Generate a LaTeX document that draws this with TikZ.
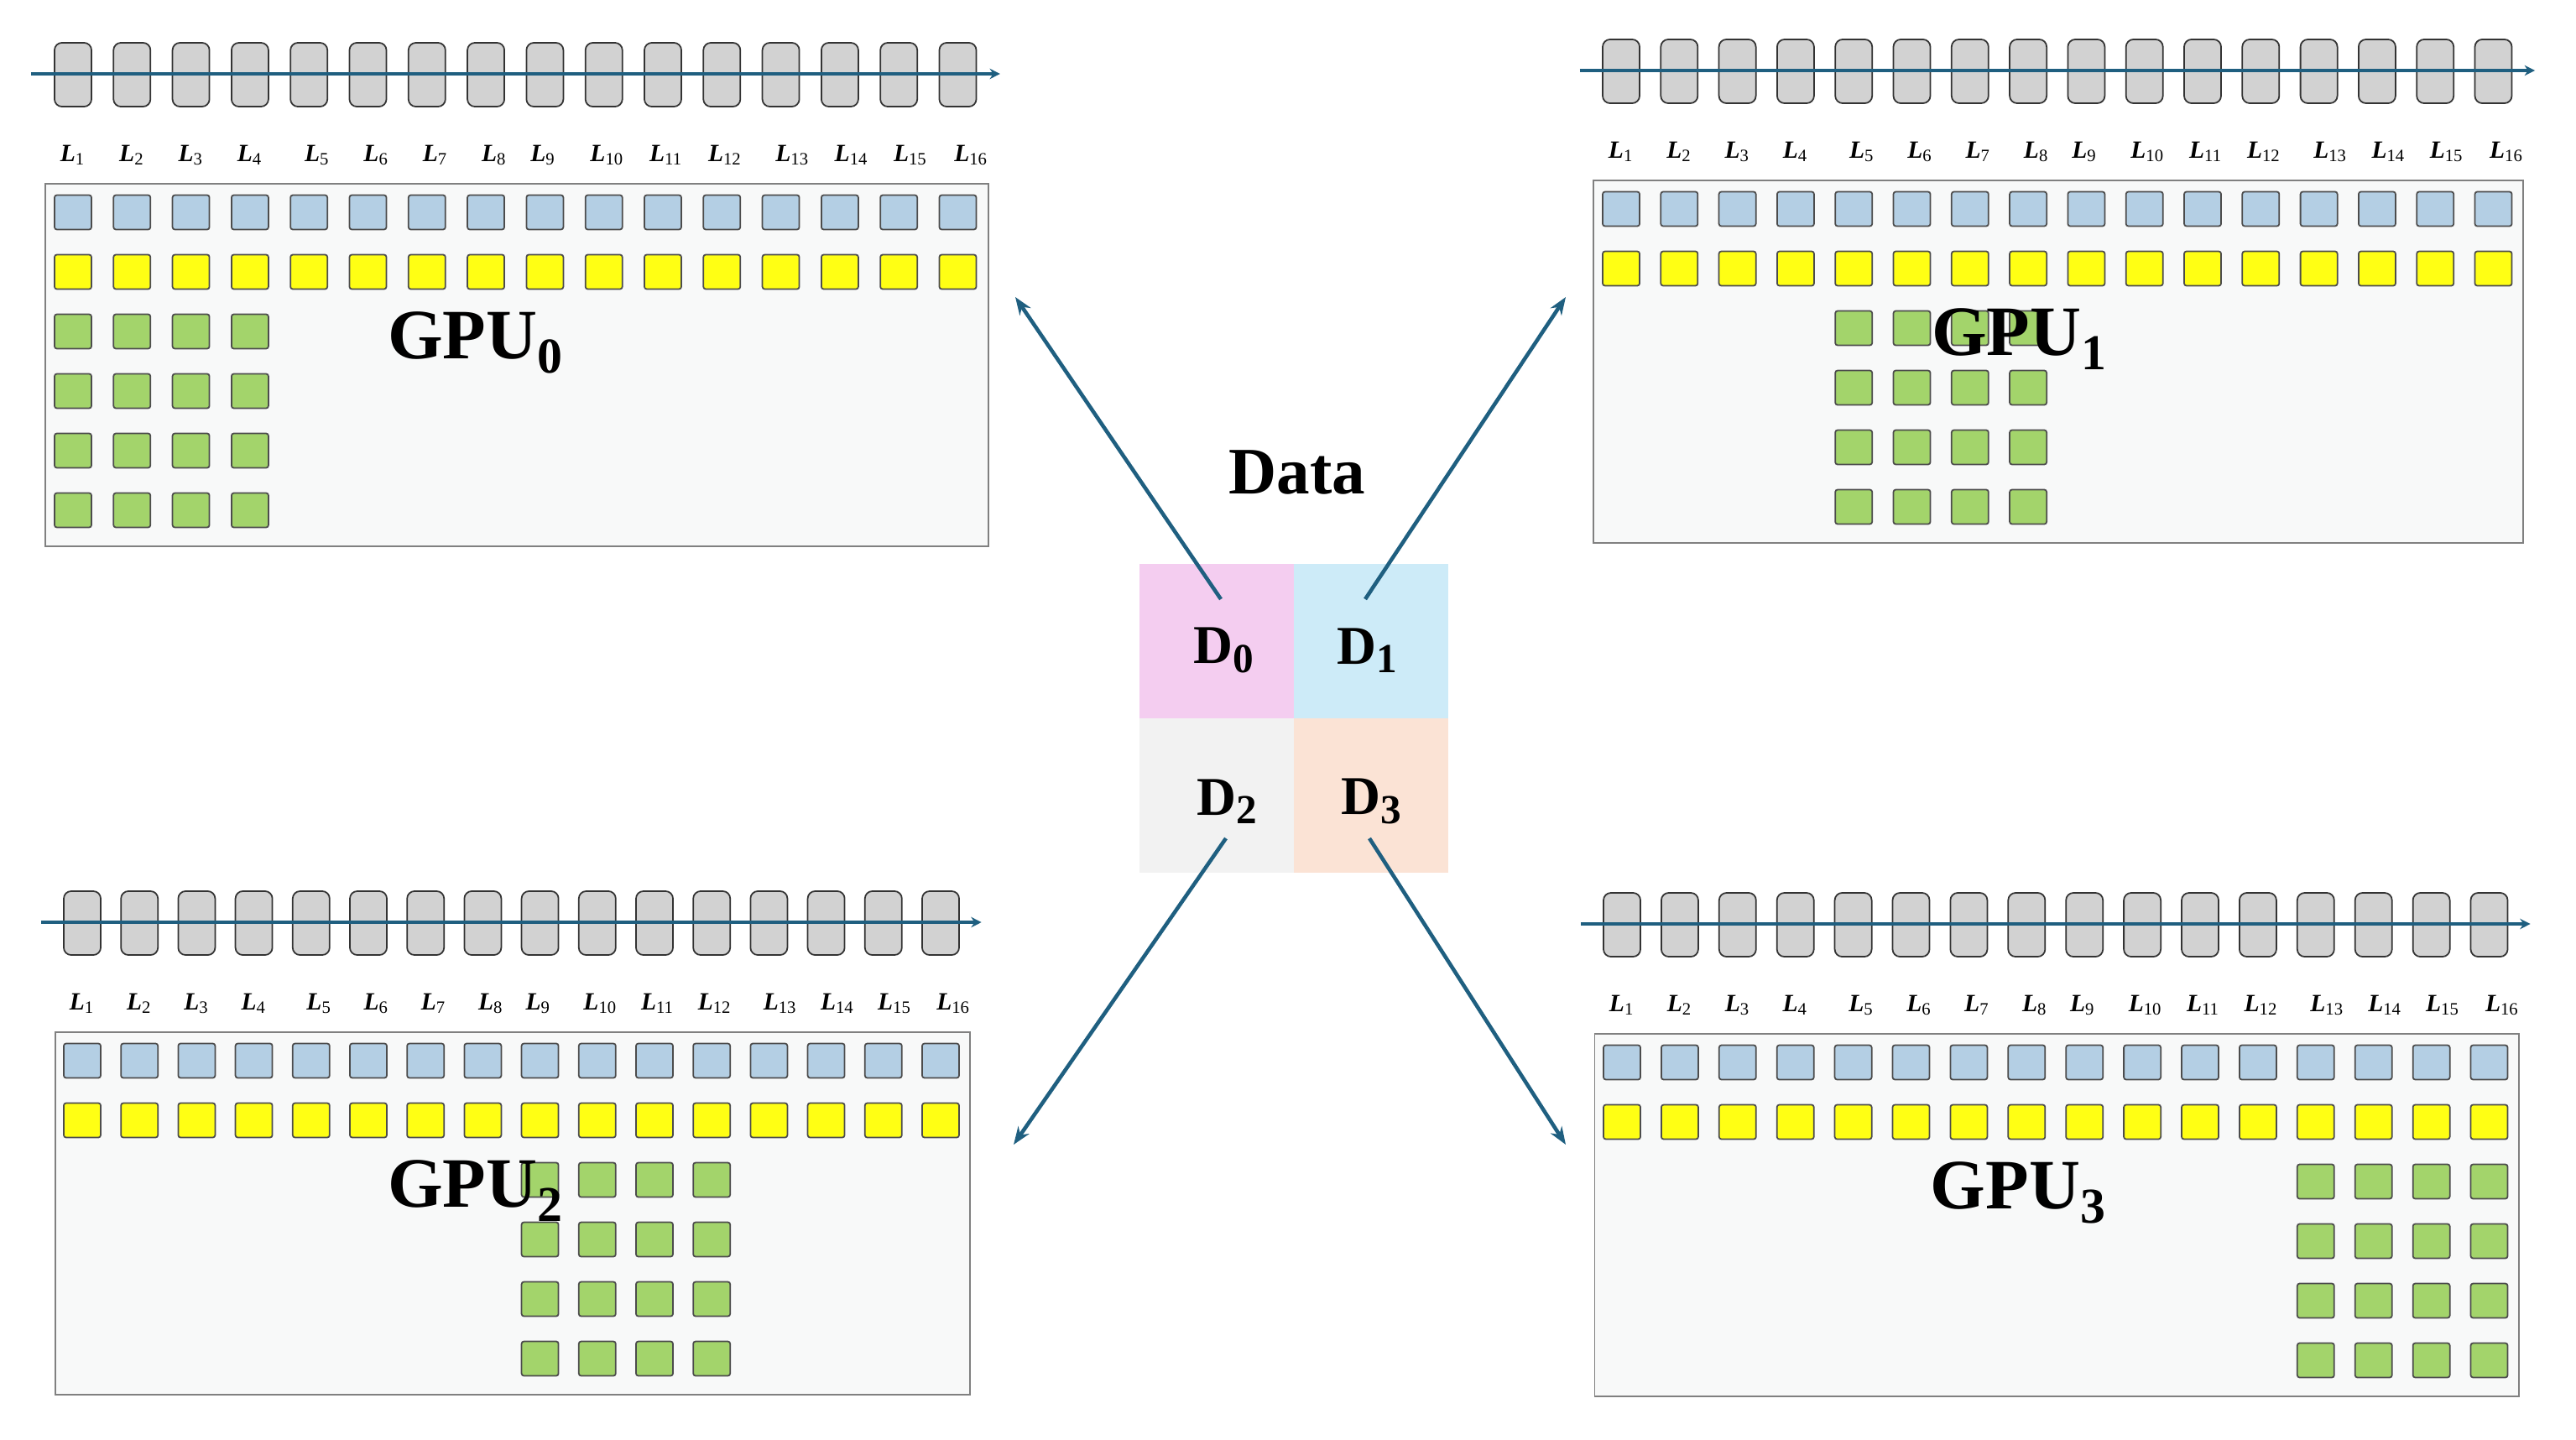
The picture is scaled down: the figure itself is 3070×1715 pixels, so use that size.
\documentclass[tikz,border=0pt]{standalone}
\usepackage{fontspec}
\setmainfont{Liberation Serif}
\usepackage{xcolor}
\usetikzlibrary{arrows, arrows.meta}

\definecolor{flowblue}{HTML}{1F5F80}
\definecolor{layergray}{HTML}{D2D2D2}
\definecolor{panelgray}{HTML}{F8F9F9}
\definecolor{wblue}{HTML}{B4CFE4}
\definecolor{wyellow}{HTML}{FFFF14}
\definecolor{wgreen}{HTML}{A3D46B}
\definecolor{dpink}{HTML}{F4CDF0}
\definecolor{dblue}{HTML}{CDEBF8}
\definecolor{dgray}{HTML}{F2F2F2}
\definecolor{dpeach}{HTML}{FBE3D5}

\tikzset{
  layer/.style={draw=black!80, fill=layergray, rounded corners=2.5pt, minimum width=0.44cm, minimum height=0.76cm, inner sep=0pt, line width=0.5pt},
  cell/.style={draw=black!70, rounded corners=0.8pt, minimum width=0.44cm, minimum height=0.41cm, inner sep=0pt, line width=0.5pt},
  panel/.style={draw=black!50, fill=panelgray, line width=0.5pt},
  layerline/.style={flowblue, line width=1.1pt, -{Stealth[length=3.5pt,width=3.5pt]}},
  flow/.style={flowblue, line width=1.3pt},
  lab/.style={font=\fontsize{8.4}{10}\selectfont, inner sep=0pt},
  gpulab/.style={font=\fontsize{24}{28}\selectfont\bfseries, inner sep=0pt},
  dcell/.style={minimum width=1.84cm, minimum height=1.84cm, inner sep=0pt},
  dlab/.style={inner sep=0pt, font=\fontsize{18.5}{20}\selectfont\bfseries},
}

\newcommand{\gsub}[1]{\raisebox{-5pt}{\fontsize{17}{17}\selectfont #1}}
\newcommand{\dsub}[1]{\raisebox{-3pt}{\fontsize{14}{14}\selectfont #1}}
\newcommand{\lname}[1]{\textbf{\textit{L}}\textsubscript{#1}}

\newcommand{\gpupanel}[6]{%
\begin{scope}[shift={(#2,#3)}, xscale=#4/70]
\draw[panel] (-33,131) rectangle (1086,563);
\foreach \i in {1,...,16}
  \node[layer] (lay#1-\i) at ({(\i-1)*70},1) {};
\coordinate (ls#1) at (-50,0);
\coordinate (le#1) at (1100,0);
\draw[layerline] (ls#1) -- (le#1);
\foreach \i/\o in {1/0,2/0,3/0,4/0,5/10,6/10,7/10,8/10,9/-2,10/4,11/4,12/4,13/14,14/14,15/14,16/16}
  \node[lab] (lab#1-\i) at ({(\i-1)*70+\o},97) {\lname{\i}};
\foreach \i in {1,...,16} {
  \node[cell, fill=wblue] (wb#1-\i) at ({(\i-1)*70},165) {};
  \node[cell, fill=wyellow] (wy#1-\i) at ({(\i-1)*70},236) {};
}
\foreach \r in {3,...,6}
  \foreach \i in {#5,...,#6}
    \node[cell, fill=wgreen] (wg#1-\r-\i) at ({(\i-1)*70},{165+71*(\r-1)}) {};
\node[gpulab, anchor=base west] (gpu#1) at (373,339) {GPU\gsub{#1}};
\end{scope}}

\begin{document}
\begin{tikzpicture}[x=0.01cm, y=-0.01cm, >={Stealth[length=6pt,width=4.5pt]}]
\useasboundingbox (0,0) rectangle (3070,1715);

\gpupanel{0}{87}{88}{70.3}{1}{4}
\gpupanel{1}{1932}{84}{69.3}{5}{8}
\gpupanel{2}{98}{1099}{68.2}{9}{12}
\gpupanel{3}{1933}{1101}{68.9}{13}{16}

\node[font=\fontsize{22.5}{26}\selectfont\bfseries] (data) at (1546,563) {Data};
\node[dcell, fill=dpink] (q0) at (1450,764) {};
\node[dcell, fill=dblue] (q1) at (1634,764) {};
\node[dcell, fill=dgray] (q2) at (1450,948) {};
\node[dcell, fill=dpeach] (q3) at (1634,948) {};
\node[dlab] (d0) at (1458,775) {D\dsub{0}};
\node[dlab] (d1) at (1629,775) {D\dsub{1}};
\node[dlab] (d2) at (1462,955) {D\dsub{2}};
\node[dlab] (d3) at (1634,955) {D\dsub{3}};

\coordinate (t0) at (1455,714);
\coordinate (t1) at (1627,714);
\coordinate (t2) at (1461,999);
\coordinate (t3) at (1632,999);
\coordinate (h0) at (1210,354);
\coordinate (h1) at (1866,354);
\coordinate (h2) at (1208,1364);
\coordinate (h3) at (1866,1364);
\draw[flow,->] (t0) -- (h0);
\draw[flow,->] (t1) -- (h1);
\draw[flow,->] (t2) -- (h2);
\draw[flow,->] (t3) -- (h3);
\end{tikzpicture}
\end{document}
